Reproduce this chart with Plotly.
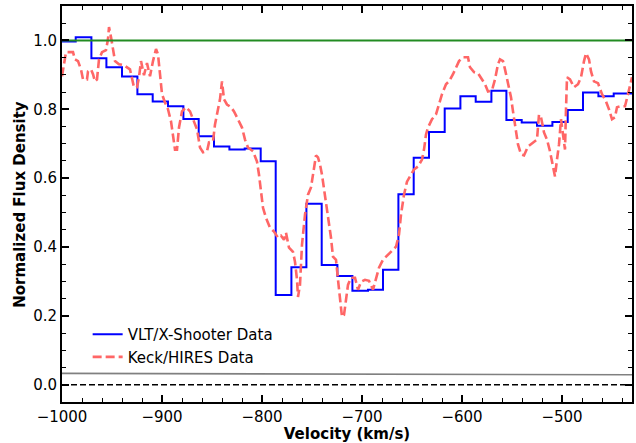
import plotly.graph_objects as go

# VLT/X-Shooter spectrum: bin edges (km/s) and normalized flux per bin
xs_edges = [-1001.7, -986.3, -970.6, -955.6, -940.0, -924.6, -909.3, -894.0, -878.6,
            -863.3, -848.0, -832.6, -817.3, -801.3, -786.3, -770.6, -755.6, -740.3,
            -724.6, -709.6, -694.0, -679.0, -663.6, -648.3, -633.0, -617.3, -601.6,
            -586.3, -570.6, -555.6, -540.3, -525.0, -509.6, -494.3, -479.0, -463.6,
            -448.3, -418.0]
xs_flux = [0.997, 1.009, 0.948, 0.922, 0.895, 0.844, 0.823, 0.809, 0.772, 0.722,
           0.692, 0.683, 0.686, 0.649, 0.261, 0.341, 0.526, 0.348, 0.316, 0.273,
           0.276, 0.334, 0.553, 0.659, 0.734, 0.802, 0.838, 0.822, 0.854, 0.769,
           0.762, 0.752, 0.763, 0.798, 0.849, 0.838, 0.846]

# Keck/HIRES spectrum
hires_vel = [-1000, -996, -989, -987, -984, -981, -979, -975, -974, -971, -969, -967,
             -965, -963, -960, -956, -954, -953, -951, -949, -947, -943, -938, -932,
             -930, -928, -925, -923, -921, -918, -915, -912, -909, -906, -904, -902,
             -900, -897, -894, -891, -889, -887, -885, -883, -880, -876, -872, -869,
             -865, -862, -859, -855, -853, -849, -847, -844, -842, -840, -838, -835,
             -831, -828, -824, -820, -817, -814, -809, -805, -803, -801, -799, -796,
             -792, -788, -784, -781, -778, -776, -773, -769, -767, -765, -764, -762,
             -760, -757, -754, -751, -748, -746, -744, -742, -740, -737, -734, -731,
             -729, -726, -724, -722, -720, -718, -716, -714, -711, -707, -704, -701,
             -697, -693, -689, -686, -683, -679, -675, -670, -666, -663, -661, -658,
             -655, -651, -648, -644, -640, -638, -636, -634, -630, -626, -623, -620,
             -616, -613, -609, -606, -603, -599, -594, -592, -588, -584, -580, -577,
             -574, -570, -567, -564, -562, -559, -557, -554, -551, -549, -546, -544,
             -541, -538, -534, -529, -525, -523, -521, -518, -515, -512, -509, -507,
             -505, -503, -501, -499, -497, -496, -495, -492, -488, -484, -481, -478,
             -476, -473, -471, -468, -464, -460, -456, -453, -450, -447, -445, -441,
             -437, -434, -430]
hires_flux = [0.896, 0.966, 0.966, 0.945, 0.940, 0.916, 0.887, 0.887, 0.910, 0.916,
              0.902, 0.881, 0.887, 0.945, 0.966, 0.972, 1.004, 1.039, 1.010, 0.975,
              0.940, 0.931, 0.928, 0.916, 0.887, 0.864, 0.864, 0.893, 0.940, 0.899,
              0.934, 0.896, 0.940, 0.975, 0.960, 0.902, 0.844, 0.820, 0.800, 0.765,
              0.727, 0.683, 0.683, 0.747, 0.794, 0.806, 0.794, 0.771, 0.742, 0.689,
              0.675, 0.678, 0.704, 0.707, 0.756, 0.800, 0.829, 0.881, 0.829, 0.814,
              0.806, 0.794, 0.771, 0.747, 0.712, 0.689, 0.678, 0.648, 0.610, 0.567,
              0.514, 0.485, 0.456, 0.445, 0.427, 0.433, 0.421, 0.442, 0.398, 0.386,
              0.357, 0.305, 0.255, 0.290, 0.407, 0.494, 0.552, 0.573, 0.625, 0.666,
              0.660, 0.640, 0.610, 0.552, 0.494, 0.427, 0.372, 0.363, 0.305, 0.246,
              0.197, 0.203, 0.246, 0.290, 0.311, 0.311, 0.276, 0.299, 0.305, 0.302,
              0.276, 0.311, 0.340, 0.363, 0.375, 0.392, 0.401, 0.436, 0.494, 0.552,
              0.590, 0.610, 0.625, 0.634, 0.654, 0.683, 0.727, 0.747, 0.771, 0.785,
              0.814, 0.844, 0.873, 0.881, 0.902, 0.922, 0.940, 0.951, 0.951, 0.922,
              0.908, 0.905, 0.887, 0.873, 0.852, 0.855, 0.887, 0.931, 0.945, 0.940,
              0.916, 0.873, 0.835, 0.794, 0.742, 0.698, 0.669, 0.666, 0.692, 0.704,
              0.712, 0.785, 0.777, 0.733, 0.712, 0.678, 0.640, 0.605, 0.654, 0.698,
              0.771, 0.718, 0.683, 0.800, 0.893, 0.887, 0.864, 0.873, 0.893, 0.940,
              0.963, 0.945, 0.910, 0.881, 0.876, 0.844, 0.823, 0.800, 0.771, 0.777,
              0.806, 0.809, 0.809, 0.844, 0.893]

# flux uncertainty
err_vel = [-1000, -900, -800, -700, -600, -500, -430]
err_flux = [0.033, 0.032, 0.031, 0.030, 0.029, 0.029, 0.029]

continuum = 1.0
zero_level = 0.0
x_range = [-1000, -430]
y_range = [-0.05, 1.1]

font_family = "DejaVu Sans"
fsize = 15

fig = go.Figure()

fig.add_trace(go.Scatter(
    x=xs_edges, y=xs_flux + [xs_flux[-1]], mode="lines", line_shape="hv",
    line=dict(color="#0000FF", width=2), name="VLT/X-Shooter Data",
    legendgroup="xs"))

fig.add_trace(go.Scatter(
    x=hires_vel, y=hires_flux, mode="lines",
    line=dict(color="#FF6666", width=2.6, dash="9px,4px"), name="Keck/HIRES Data",
    legendgroup="hires"))

fig.add_trace(go.Scatter(
    x=x_range, y=[continuum, continuum], mode="lines",
    line=dict(color="#228B22", width=2), showlegend=False, hoverinfo="skip"))

fig.add_trace(go.Scatter(
    x=err_vel, y=err_flux, mode="lines",
    line=dict(color="#808080", width=1.6), showlegend=False, hoverinfo="skip"))

fig.add_trace(go.Scatter(
    x=x_range, y=[zero_level, zero_level], mode="lines",
    line=dict(color="black", width=1.6, dash="6px,3px"), showlegend=False, hoverinfo="skip"))

axis_common = dict(
    showline=True, linecolor="black", linewidth=2, mirror="allticks",
    ticks="inside", ticklen=7, tickwidth=1.5, tickcolor="black",
    showgrid=False, zeroline=False, automargin=False,
    tickfont=dict(family=font_family, size=fsize, color="black"),
)

fig.update_xaxes(
    range=x_range, dtick=100, tick0=-1000,
    minor=dict(ticks="inside", dtick=20, ticklen=4, tickwidth=1, tickcolor="black"),
    title=dict(text="Velocity (km/s)",
               font=dict(family=font_family, size=fsize, color="black", weight="bold")),
    **axis_common)

fig.update_yaxes(
    range=y_range, dtick=0.2, tick0=0, tickformat=".1f",
    minor=dict(ticks="inside", dtick=0.05, ticklen=4, tickwidth=1, tickcolor="black"),
    **axis_common)

# y-axis title placed as a rotated annotation beside the tick labels
fig.add_annotation(
    text="Normalized Flux Density", textangle=-90,
    xref="paper", yref="paper", x=-0.074, y=0.5, xanchor="center", yanchor="middle",
    showarrow=False,
    font=dict(family=font_family, size=fsize, color="black", weight="bold"))

fig.update_layout(
    width=636, height=443,
    margin=dict(l=62, r=4, t=6, b=41),
    paper_bgcolor="white", plot_bgcolor="white",
    font=dict(family=font_family, size=fsize, color="black"),
    legend=dict(x=0.045, y=0.073, xanchor="left", yanchor="bottom",
                traceorder="grouped", tracegroupgap=0,
                bgcolor="rgba(0,0,0,0)", font=dict(family=font_family, size=fsize)),
)

fig.write_html("out.html")
